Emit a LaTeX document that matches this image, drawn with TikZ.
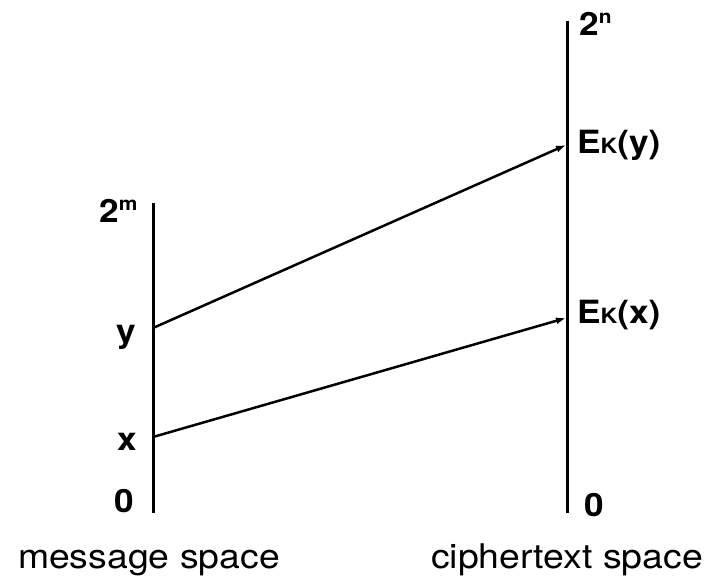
\documentclass[tikz,border=0pt]{standalone}
\usepackage{fontspec}
\setmainfont{TeX Gyre Heros}
\usetikzlibrary{arrows.meta}
\tikzset{
  axis/.style={line width=3pt},
  mapto/.style={line width=2.5pt,-{Latex[length=10pt,width=7pt]}},
  lbl/.style={inner sep=0pt,anchor=base west,font=\bfseries\fontsize{32}{32}\selectfont},
  spacecaption/.style={inner sep=0pt,anchor=base,font=\fontsize{34}{34}\selectfont},
}
\newcommand{\supr}[1]{\raisebox{0.36em}{\fontsize{19}{19}\selectfont #1}}
\newcommand{\subk}{{\fontsize{21}{21}\selectfont K}}
\begin{document}
\begin{tikzpicture}[x=1pt,y=-1pt]
\useasboundingbox (0,0) rectangle (710,579);
% axes
\coordinate (ltop) at (153,203);
\coordinate (lbot) at (153,513);
\coordinate (rtop) at (567,21);
\coordinate (rbot) at (567,513);
\draw[axis] (ltop) -- (lbot);
\draw[axis] (rtop) -- (rbot);
% points
\coordinate (ly) at (153,328);
\coordinate (lx) at (153,437);
\coordinate (ry) at (566,145);
\coordinate (rx) at (566,318);
\draw[mapto] (ly) -- (ry);
\draw[mapto] (lx) -- (rx);
% labels
\node[lbl] (m2) at (99,222) {\scalebox{1.1}[1]{2\supr{m}}};
\node[lbl] (ylab) at (116,342) {\scalebox{1.1}[1]{y}};
\node[lbl] (xlab) at (117,450) {\scalebox{1.1}[1]{x}};
\node[lbl] (zl) at (114,512) {\scalebox{1.1}[1]{0}};
\node[lbl] (n2) at (579,35) {\scalebox{1.1}[1]{2\supr{n}}};
\node[lbl] (eky) at (577,153) {\scalebox{1.1}[1]{E\subk(y)}};
\node[lbl] (ekx) at (577,323) {\scalebox{1.1}[1]{E\subk(x)}};
\node[lbl] (zr) at (584,516) {\scalebox{1.1}[1]{0}};
\node[spacecaption] (ms) at (149,568) {\scalebox{1.1}[1]{message space}};
\node[spacecaption] (cs) at (567,568) {\scalebox{1.1}[1]{ciphertext space}};
\end{tikzpicture}
\end{document}
